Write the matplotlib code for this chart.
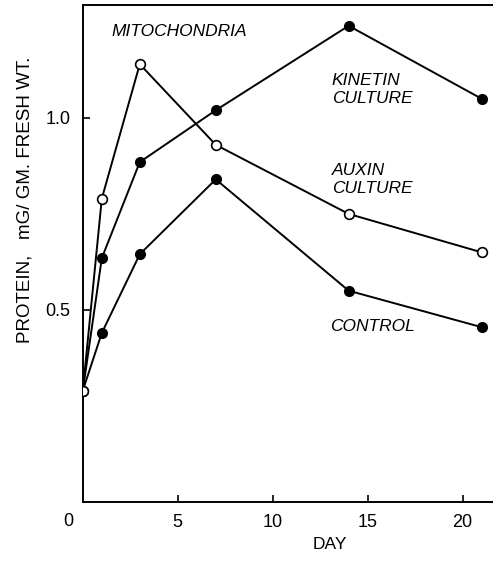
import matplotlib.pyplot as plt
from matplotlib.transforms import offset_copy

plt.rcParams['font.family'] = ['Liberation Sans', 'DejaVu Sans']

# data
days = [0, 1, 3, 7, 14, 21]
mito = [0.29, 0.79, 1.14, 0.93, 0.75, 0.65]
kinetin = [0.29, 0.635, 0.885, 1.02, 1.24, 1.05]
control = [0.29, 0.44, 0.645, 0.84, 0.55, 0.455]

x_ticks = [5, 10, 15, 20]
y_ticks = [0.5, 1.0]
y_ticklabels = ['0.5', '1.0']

fig = plt.figure(figsize=(4.93, 5.62), dpi=100)
ax = fig.add_axes([0.168, 0.107, 0.832, 0.884])

line_kw = dict(color='black', lw=1.4, zorder=3)
ax.plot(days, kinetin, marker='o', ms=7, mfc='black', mec='black', **line_kw)
ax.plot(days, control, marker='o', ms=7, mfc='black', mec='black', **line_kw)
ax.plot(days, mito, marker='o', ms=7, mfc='white', mec='black', mew=1.2, **line_kw)

ax.set_xlim(0, 21.6)
ax.set_ylim(0, 1.294)

ax.spines['right'].set_visible(False)
for s in ['left', 'top', 'bottom']:
    ax.spines[s].set_linewidth(1.4)

ax.set_xticks(x_ticks)
ax.set_xticklabels([str(t) for t in x_ticks])
ax.set_yticks(y_ticks)
ax.set_yticklabels(y_ticklabels)
ax.tick_params(direction='in', length=5, width=1.2, labelsize=13, pad=9)

# the "0" sits left of the corner
ax.text(0, 0, '0', fontsize=13, ha='center', va='top',
        transform=offset_copy(ax.transData, fig=fig, x=-15, y=-11, units='dots'))

ax.set_xlabel('DAY', fontsize=12.5)
ax.xaxis.set_label_coords((13 - 0) / 21.6, -0.07)
ax.set_ylabel('PROTEIN,   mG/ GM. FRESH WT.', fontsize=13.5)
ax.yaxis.set_label_coords(-0.12, 0.608)

lab = dict(fontsize=12.5, style='italic', ha='left', va='center')
ax.text(1.5, 1.225, 'MITOCHONDRIA', **lab)
ax.text(13.1, 1.073, 'KINETIN\nCULTURE', linespacing=1.25, **lab)
ax.text(13.1, 0.84, 'AUXIN\nCULTURE', linespacing=1.25, **lab)
ax.text(13.0, 0.456, 'CONTROL', **lab)

fig.savefig('out.png', dpi=100)
